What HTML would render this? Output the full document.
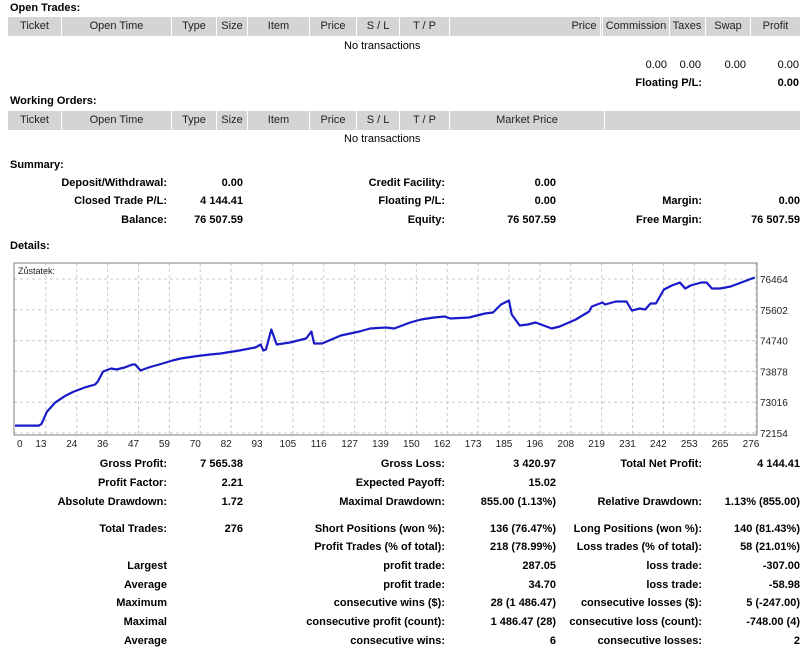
<!DOCTYPE html>
<html><head><meta charset="utf-8">
<style>
body{margin:0;width:807px;height:650px;background:#fff;font-family:"Liberation Sans",sans-serif;font-size:11px;color:#000;position:relative;overflow:hidden}
.t{position:absolute;white-space:nowrap;line-height:13px}
.b{font-weight:bold}
.r{text-align:right}
.hdr{position:absolute;background:#d4d4d4;height:19px}
.hc{position:absolute;top:0;height:19px;line-height:19px;text-align:center;border-right:1px solid #fff;font-size:11px;color:#222}
</style></head><body>
<div class="t b" style="left:10px;top:2px">Open Trades:</div>
<div class="hdr" style="left:8px;top:17px;width:792px">
<div class="hc" style="left:0;width:53px">Ticket</div>
<div class="hc" style="left:54px;width:109px">Open Time</div>
<div class="hc" style="left:164px;width:44px">Type</div>
<div class="hc" style="left:209px;width:30px">Size</div>
<div class="hc" style="left:240px;width:61px">Item</div>
<div class="hc" style="left:302px;width:46px">Price</div>
<div class="hc" style="left:349px;width:42px">S / L</div>
<div class="hc" style="left:392px;width:49px">T / P</div>
<div class="hc" style="left:442px;width:150px;text-align:right;padding-right:0">&nbsp;</div>
<div class="hc" style="left:558px;width:36px;border:none">Price</div>
<div class="hc" style="left:594px;width:66px;border-left:1px solid #fff">Commission</div>
<div class="hc" style="left:661px;width:36px">Taxes</div>
<div class="hc" style="left:698px;width:44px">Swap</div>
<div class="hc" style="left:743px;width:49px;border:none">Profit</div>
</div>
<div class="t" style="left:344px;top:40px">No transactions</div>
<div class="t r" style="right:140px;top:59px">0.00</div>
<div class="t r" style="right:106px;top:59px">0.00</div>
<div class="t r" style="right:61px;top:59px">0.00</div>
<div class="t r" style="right:8px;top:59px">0.00</div>
<div class="t b r" style="right:105px;top:77px">Floating P/L:</div>
<div class="t b r" style="right:8px;top:77px">0.00</div>

<div class="t b" style="left:10px;top:95px">Working Orders:</div>
<div class="hdr" style="left:8px;top:111px;width:792px">
<div class="hc" style="left:0;width:53px">Ticket</div>
<div class="hc" style="left:54px;width:109px">Open Time</div>
<div class="hc" style="left:164px;width:44px">Type</div>
<div class="hc" style="left:209px;width:30px">Size</div>
<div class="hc" style="left:240px;width:61px">Item</div>
<div class="hc" style="left:302px;width:46px">Price</div>
<div class="hc" style="left:349px;width:42px">S / L</div>
<div class="hc" style="left:392px;width:49px">T / P</div>
<div class="hc" style="left:442px;width:154px">Market Price</div>
</div>
<div class="t" style="left:344px;top:133px">No transactions</div>

<div class="t b" style="left:10px;top:159px">Summary:</div>
<div id="stats"></div>
<div class="t b" style="left:10px;top:240px">Details:</div>

<svg id="chart" width="807" height="200" style="position:absolute;left:0;top:255px"></svg>

<script>
const tradeIdx=[0,9,10,12,15,19,22,26,30,31,33,36,38,41,44,45,47,50,54,59,62,67,73,77,84,90,92,93,94,96,98,103,109,111,112,115,122,129,133,139,142,148,152,157,161,163,170,176,179,182,185,186,189,192,195,201,204,210,215,216,220,221,225,229,231,234,236,238,240,243,246,249,251,253,257,259,261,264,268,272,275,277];
const balance=[72362,72362,72418,72754,73006,73202,73314,73426,73510,73594,73874,73958,73930,73986,74070,74070,73902,73986,74070,74182,74238,74294,74350,74378,74462,74546,74630,74462,74490,75050,74630,74686,74798,74994,74658,74658,74882,74994,75078,75106,75078,75246,75330,75386,75414,75358,75386,75498,75526,75750,75862,75470,75162,75190,75246,75078,75134,75330,75554,75694,75806,75750,75834,75834,75582,75638,75610,75778,75778,76170,76282,76366,76198,76282,76366,76366,76198,76198,76254,76366,76450,76506];
const yTicks=[72154,73016,73878,74740,75602,76464];
const xTickLabels=[0,13,24,36,47,59,70,82,93,105,116,127,139,150,162,173,185,196,208,219,231,242,253,265,276];
const xMax=277.5;

const NS='http://www.w3.org/2000/svg';
const svg=document.getElementById('chart');
const L=14,R=757,T=8,B=180;
const xs=i=>L+1+i/xMax*(R-L-2);
const ys=v=>(433-255)+(72154-v)*(154/4310);
function mk(tag,attrs,parent){const e=document.createElementNS(NS,tag);for(const k in attrs)e.setAttribute(k,attrs[k]);(parent||svg).appendChild(e);return e;}
yTicks.forEach(v=>{
  const y=ys(v);
  const g=mk('line',{x1:L,x2:R,y1:y,y2:y,stroke:'#c8c8c8','stroke-dasharray':'3,3'});
  
  
  const t=mk('text',{x:R+3,y:y+4,'font-size':'10','font-family':'Liberation Sans, sans-serif',fill:'#222'});
  t.textContent=v;
  
  
});
const step=xMax/24;
xTickLabels.forEach((lab,k)=>{
  const x=xs(k*step);
  if(k>0){
    const g=mk('line',{x1:x,x2:x,y1:T,y2:B,stroke:'#c8c8c8','stroke-dasharray':'3,3'});
    
    
  }
  const t=mk('text',{x:k===0?17:x-5,y:B+12,'font-size':'10','font-family':'Liberation Sans, sans-serif',fill:'#222','text-anchor':k===0?'start':'middle'});
  t.textContent=lab;
  
  
});
const frame=mk('rect',{x:L,y:T,width:R-L,height:B-T,fill:'none',stroke:'#808080'});


const lt=mk('text',{x:L+4,y:T+11,'font-size':'9','font-family':'Liberation Sans, sans-serif',fill:'#222'});
lt.textContent='Zůstatek:';


const pts=tradeIdx.map((i,k)=>xs(i).toFixed(1)+','+ys(balance[k]).toFixed(1)).join(' ');
const pl=mk('polyline',{points:pts,fill:'none',stroke:'#1a1ac8','stroke-width':'2.2','stroke-linejoin':'round'});



const rows=[
 [184,'Deposit/Withdrawal:','0.00','Credit Facility:','0.00','',''],
 [202,'Closed Trade P/L:','4 144.41','Floating P/L:','0.00','Margin:','0.00'],
 [221,'Balance:','76 507.59','Equity:','76 507.59','Free Margin:','76 507.59'],
 [465,'Gross Profit:','7 565.38','Gross Loss:','3 420.97','Total Net Profit:','4 144.41'],
 [484,'Profit Factor:','2.21','Expected Payoff:','15.02','',''],
 [503,'Absolute Drawdown:','1.72','Maximal Drawdown:','855.00 (1.13%)','Relative Drawdown:','1.13% (855.00)'],
 [530,'Total Trades:','276','Short Positions (won %):','136 (76.47%)','Long Positions (won %):','140 (81.43%)'],
 [548,'','','Profit Trades (% of total):','218 (78.99%)','Loss trades (% of total):','58 (21.01%)'],
 [567,'Largest','','profit trade:','287.05','loss trade:','-307.00'],
 [586,'Average','','profit trade:','34.70','loss trade:','-58.98'],
 [604,'Maximum','','consecutive wins ($):','28 (1 486.47)','consecutive losses ($):','5 (-247.00)'],
 [623,'Maximal','','consecutive profit (count):','1 486.47 (28)','consecutive loss (count):','-748.00 (4)'],
 [642,'Average','','consecutive wins:','6','consecutive losses:','2']
];
const rights=[807-167,807-243,807-445,807-556,807-702,807-800];
const st=document.getElementById('stats');
rows.forEach(r=>{
  for(let c=0;c<6;c++){
    if(!r[c+1])continue;
    const d=document.createElement('div');
    d.className='t b r';
    d.style.right=rights[c]+'px';
    d.style.top=(r[0]-7)+'px';
    d.textContent=r[c+1];
    
    
    st.appendChild(d);
  }
});
</script>
</body></html>
